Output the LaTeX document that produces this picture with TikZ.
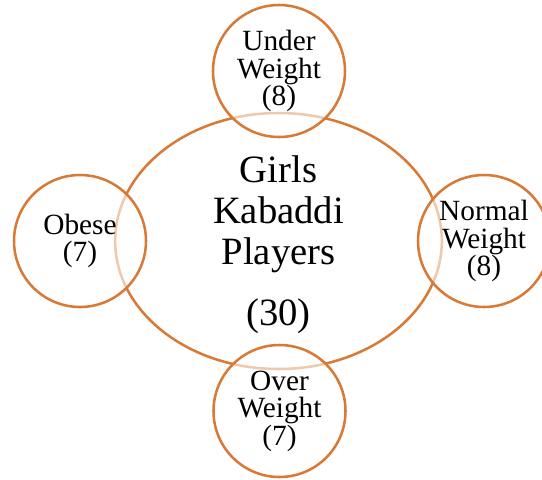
\documentclass[tikz,border=0pt]{standalone}
\usepackage{fontspec}
\setmainfont{Liberation Serif}
\usetikzlibrary{shapes.geometric}
\definecolor{ring}{HTML}{D87A36}
\tikzset{
  ring/.style={draw=ring, line width=1.9pt},
  smallc/.style={ring, circle, minimum size=99pt, inner sep=0pt, fill=white, fill opacity=0.6, text opacity=1, align=center,
    font=\fontsize{22pt}{20.6pt}\selectfont},
  bigc/.style={ring, ellipse, minimum width=245pt, minimum height=192pt, inner sep=0pt},
  bigtext/.style={align=center, inner sep=0pt, font=\fontsize{29pt}{30.75pt}\selectfont}
}
\begin{document}
\begin{tikzpicture}[x=0.75pt,y=-0.75pt]
\useasboundingbox (0,0) rectangle (542,479);
\node[bigc] (main) at (278.5,241) {};
\node[bigtext, anchor=base] (maintext) at (278.5,325) {Girls\\Kabaddi\\Players\\[15pt](30)};
\node[smallc] (under) at (279,71) {Under\\Weight\\(8)};
\node[smallc] (obese) at (80,241) {Obese\\(7)};
\node[smallc] (normal) at (484,241) {Normal\\Weight\\(8)};
\node[smallc] (over) at (279.5,411) {Over\\Weight\\(7)};
\end{tikzpicture}
\end{document}
